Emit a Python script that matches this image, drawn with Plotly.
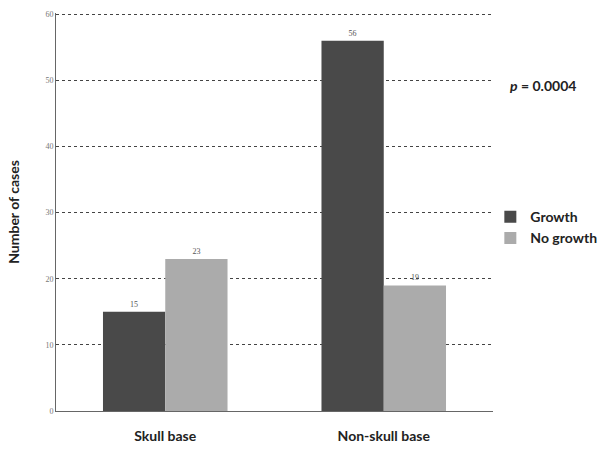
import plotly.graph_objects as go

categories = ["Skull base", "Non-skull base"]
growth = [15, 56]
no_growth = [23, 19]
y_ticks = [0, 10, 20, 30, 40, 50, 60]

fig = go.Figure()
fig.add_trace(go.Bar(
    x=categories, y=growth, name="<b>Growth</b>",
    marker=dict(color="#494949", line=dict(width=0)),
    text=[str(v) for v in growth], textposition="outside",
    textfont=dict(size=8, color="#555", family="Liberation Serif"),
    cliponaxis=False,
))
fig.add_trace(go.Bar(
    x=categories, y=no_growth, name="<b>No growth</b>",
    marker=dict(color="#ababab", line=dict(width=0)),
    text=[str(v) for v in no_growth], textposition="outside",
    textfont=dict(size=8, color="#555", family="Liberation Serif"),
    cliponaxis=False,
))

fig.update_layout(
    width=616, height=452,
    margin=dict(l=56, r=123, t=13, b=41, autoexpand=False),
    plot_bgcolor="white", paper_bgcolor="white",
    barmode="group", bargap=0.43, bargroupgap=0,
    font=dict(family="Lato", color="#222"),
    showlegend=True,
    legend=dict(
        xref="container", yref="container",
        x=0.796, y=0.555, xanchor="left", yanchor="top",
        font=dict(size=14, family="Lato", color="#222"),
        itemwidth=30, tracegroupgap=2,
        bgcolor="rgba(0,0,0,0)",
    ),
    yaxis=dict(
        range=[0, 60.2], tickvals=y_ticks,
        ticktext=[str(v) for v in y_ticks],
        tickfont=dict(size=8, color="#777", family="Liberation Serif"),
        showgrid=True, gridcolor="#444", griddash="dot", gridwidth=1,
        showline=True, linecolor="#666", linewidth=1,
        zeroline=False, ticks="", ticklen=0,
        title=dict(text="<b>Number of cases</b>",
                   font=dict(size=14, family="Lato", color="#222"), standoff=22),
    ),
    xaxis=dict(
        tickfont=dict(size=14, family="Lato", color="#222"),
        ticktext=["<b>Skull base</b>", "<b>Non-skull base</b>"],
        tickvals=categories, ticklabelstandoff=12,
        showline=True, linecolor="#666", linewidth=1,
        ticks="", showgrid=False,
    ),
)
# p-value note, positioned in plot-area fractions
fig.add_annotation(
    x=(508 - 56) / (616 - 56 - 123), y=1 - (85 - 13) / (452 - 13 - 41),
    xref="paper", yref="paper", xanchor="left", yanchor="middle",
    showarrow=False, text="<b><i>p</i> = 0.0004</b>",
    font=dict(size=14, family="Lato", color="#222"),
)

fig.write_html("out.html")
